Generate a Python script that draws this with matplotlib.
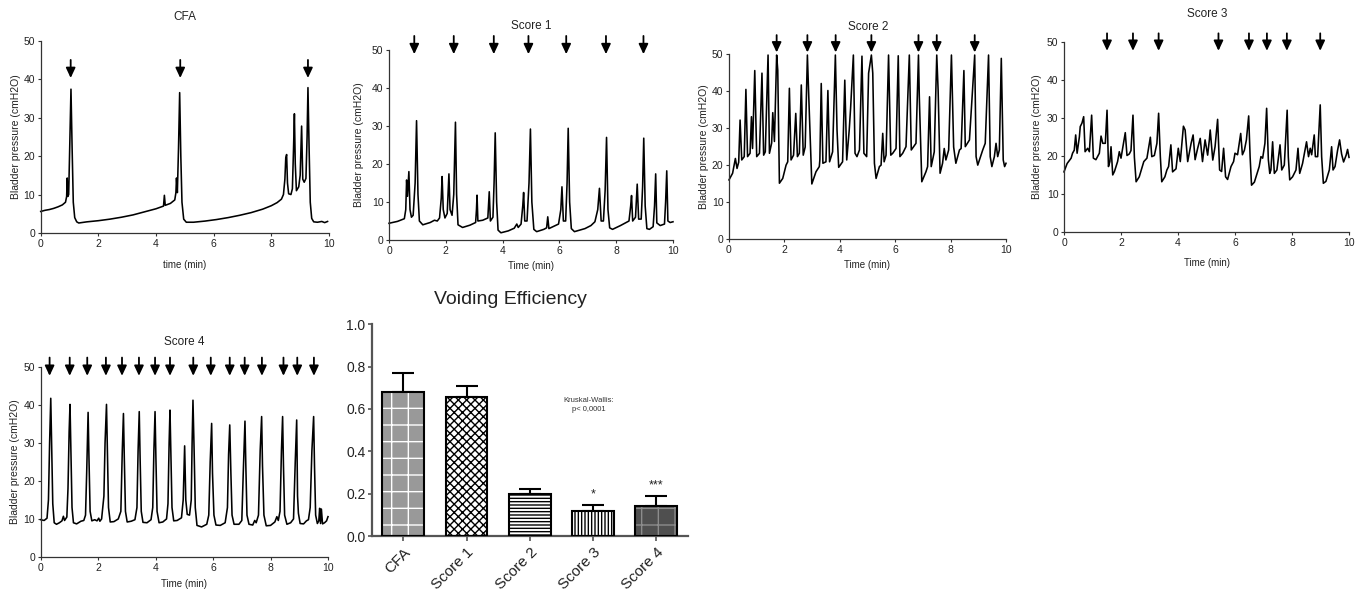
import numpy as np
import matplotlib
matplotlib.use("Agg")
import matplotlib.pyplot as plt

plt.rcParams['font.family'] = ['Liberation Sans', 'DejaVu Sans']
plt.rcParams['hatch.linewidth'] = 1.0

# ---------------- data: cystometry traces (time min, pressure cmH2O) ----------------
cfa_trace = [
    (0.00, 5.6), (0.15, 5.9), (0.30, 6.1), (0.45, 6.4), (0.60, 6.8), (0.75, 7.3), (0.86, 8.0),
    (0.90, 9.5), (0.92, 14.3), (0.94, 9.5), (0.97, 10.0), (1.00, 20.0), (1.05, 37.4), (1.09, 22.0),
    (1.13, 8.0), (1.18, 4.0), (1.25, 2.9), (1.32, 2.6), (1.60, 2.9), (2.00, 3.2), (2.40, 3.6),
    (2.80, 4.1), (3.20, 4.7), (3.60, 5.5), (4.00, 6.3), (4.26, 7.0), (4.29, 9.8), (4.32, 7.2),
    (4.50, 7.7), (4.65, 8.6), (4.69, 10.5), (4.71, 14.3), (4.74, 10.5), (4.78, 22.0), (4.82, 36.5),
    (4.86, 20.0), (4.90, 8.0), (4.96, 3.6), (5.05, 2.8), (5.30, 2.8), (5.70, 3.1), (6.10, 3.5),
    (6.50, 4.0), (6.90, 4.6), (7.30, 5.3), (7.70, 6.2), (8.00, 7.1), (8.20, 7.9), (8.35, 8.8),
    (8.42, 10.0), (8.47, 14.0), (8.50, 19.5), (8.53, 20.4), (8.56, 13.0), (8.60, 10.2), (8.68, 10.0),
    (8.73, 11.5), (8.77, 22.0), (8.80, 31.0), (8.83, 18.0), (8.87, 11.0), (8.95, 12.0), (9.00, 15.0),
    (9.05, 27.8), (9.09, 14.0), (9.14, 13.2), (9.20, 14.2), (9.24, 25.0), (9.27, 37.8), (9.31, 22.0),
    (9.35, 8.0), (9.40, 3.8), (9.47, 2.9), (9.60, 2.8), (9.75, 3.0), (9.85, 2.7), (9.95, 3.0),
]
cfa_arrows = [1.04, 4.84, 9.27]

score1_trace = [
    (0.00, 4.4), (0.30, 4.9), (0.54, 5.6), (0.59, 8.0), (0.62, 15.8), (0.65, 11.5), (0.70, 18.0),
    (0.74, 8.0), (0.79, 6.0), (0.85, 6.5), (0.92, 15.0), (0.97, 31.4), (1.02, 12.0), (1.07, 5.0),
    (1.19, 4.0), (1.45, 4.6), (1.60, 5.2), (1.70, 5.0), (1.78, 5.8), (1.84, 11.0), (1.87, 16.7),
    (1.91, 8.0), (1.97, 5.8), (2.05, 7.0), (2.11, 17.4), (2.15, 8.0), (2.22, 6.5), (2.28, 12.0),
    (2.34, 31.0), (2.38, 12.0), (2.43, 4.0), (2.59, 3.3), (2.85, 3.9), (3.05, 4.6), (3.08, 8.0),
    (3.10, 11.8), (3.13, 5.0), (3.30, 5.2), (3.48, 5.8), (3.53, 12.7), (3.57, 5.0), (3.66, 6.0),
    (3.70, 15.0), (3.74, 28.2), (3.79, 10.0), (3.84, 2.6), (3.94, 1.9), (4.20, 2.4), (4.41, 3.1),
    (4.50, 4.2), (4.55, 3.3), (4.65, 4.2), (4.71, 9.0), (4.74, 12.5), (4.78, 5.0), (4.86, 5.0),
    (4.93, 15.0), (4.98, 29.2), (5.03, 10.0), (5.10, 2.8), (5.20, 2.2), (5.45, 2.8), (5.55, 3.2),
    (5.59, 6.1), (5.63, 3.0), (5.97, 4.2), (6.05, 8.0), (6.09, 14.0), (6.14, 5.0), (6.22, 5.0),
    (6.27, 15.0), (6.31, 29.4), (6.36, 10.0), (6.42, 3.0), (6.53, 2.2), (6.90, 3.0), (7.11, 3.8),
    (7.25, 4.8), (7.35, 8.0), (7.41, 13.6), (7.47, 5.0), (7.55, 5.0), (7.61, 13.0), (7.66, 27.0),
    (7.71, 8.0), (7.77, 3.2), (7.87, 2.8), (8.15, 3.8), (8.35, 4.6), (8.45, 5.0), (8.51, 9.0),
    (8.54, 11.7), (8.58, 5.0), (8.68, 6.0), (8.74, 14.7), (8.79, 5.5), (8.88, 5.5), (8.93, 14.0),
    (8.97, 26.8), (9.02, 9.0), (9.08, 3.0), (9.17, 2.8), (9.30, 3.5), (9.35, 9.0), (9.39, 17.4),
    (9.43, 4.5), (9.55, 3.8), (9.70, 4.2), (9.74, 10.0), (9.78, 18.2), (9.82, 5.0), (9.90, 4.6),
    (10.00, 4.8),
]
score1_arrows = [0.89, 2.28, 3.69, 4.91, 6.24, 7.64, 8.96]

score2_trace = [
    (0.00, 16.0), (0.13, 17.8), (0.23, 21.8), (0.29, 19.1), (0.35, 20.8), (0.40, 32.2), (0.46, 21.4),
    (0.55, 22.3), (0.61, 40.5), (0.67, 22.3), (0.76, 23.2), (0.81, 33.1), (0.85, 24.5), (0.93, 45.6),
    (1.00, 22.3), (1.10, 23.2), (1.19, 44.9), (1.25, 22.7), (1.31, 23.6), (1.41, 49.8), (1.46, 23.2),
    (1.54, 26.0), (1.58, 34.2), (1.64, 26.4), (1.72, 49.8), (1.76, 45.7), (1.82, 15.1), (1.94, 16.4),
    (2.06, 20.0), (2.12, 20.9), (2.18, 40.8), (2.24, 21.4), (2.33, 22.7), (2.41, 34.0), (2.47, 22.3),
    (2.54, 23.2), (2.61, 41.7), (2.68, 22.7), (2.75, 24.9), (2.83, 49.8), (2.88, 38.5), (2.99, 14.9),
    (3.14, 18.2), (3.26, 19.6), (3.28, 21.4), (3.33, 42.1), (3.39, 20.5), (3.50, 20.9), (3.57, 40.2),
    (3.63, 20.9), (3.74, 23.6), (3.84, 49.8), (3.90, 29.5), (3.96, 19.4), (4.10, 20.9), (4.18, 43.0),
    (4.25, 21.4), (4.34, 29.5), (4.39, 35.4), (4.49, 49.8), (4.55, 23.2), (4.62, 22.3), (4.71, 24.1),
    (4.80, 49.5), (4.87, 23.2), (4.97, 22.3), (5.04, 44.9), (5.14, 49.8), (5.19, 44.9), (5.25, 20.5),
    (5.31, 16.4), (5.43, 19.6), (5.49, 20.0), (5.55, 28.6), (5.60, 20.9), (5.67, 22.7), (5.76, 49.8),
    (5.84, 22.7), (5.91, 23.2), (6.03, 24.5), (6.11, 49.6), (6.17, 22.3), (6.27, 23.2), (6.39, 25.0),
    (6.51, 49.8), (6.58, 24.1), (6.75, 25.9), (6.84, 49.8), (6.87, 38.5), (6.96, 15.5), (7.11, 18.2),
    (7.17, 19.6), (7.24, 38.5), (7.30, 19.6), (7.41, 23.6), (7.50, 49.8), (7.55, 40.2), (7.62, 17.8),
    (7.71, 20.5), (7.77, 24.5), (7.83, 21.4), (7.93, 24.1), (8.03, 49.8), (8.11, 24.9), (8.19, 20.5),
    (8.32, 24.1), (8.38, 24.5), (8.48, 45.6), (8.53, 25.0), (8.68, 26.8), (8.87, 49.8), (8.92, 22.3),
    (8.98, 20.0), (9.16, 24.1), (9.25, 25.9), (9.37, 49.8), (9.43, 22.3), (9.49, 19.6), (9.58, 22.3),
    (9.64, 25.9), (9.70, 22.3), (9.76, 24.1), (9.83, 48.9), (9.90, 21.4), (9.95, 19.6), (10.00, 20.5),
]
score2_arrows = [1.72, 2.83, 3.85, 5.14, 6.84, 7.50, 8.87]

score3_trace = [
    (0.00, 15.8), (0.11, 18.0), (0.25, 19.4), (0.30, 20.7), (0.36, 21.5), (0.41, 25.5), (0.46, 20.7),
    (0.54, 25.0), (0.57, 27.7), (0.63, 28.6), (0.69, 30.3), (0.74, 21.1), (0.83, 22.0), (0.89, 21.1),
    (0.97, 30.7), (1.03, 19.4), (1.12, 19.0), (1.24, 20.7), (1.30, 25.2), (1.36, 23.3), (1.45, 23.3),
    (1.51, 32.0), (1.56, 17.2), (1.61, 18.5), (1.65, 22.4), (1.71, 15.0), (1.77, 15.9), (1.88, 18.5),
    (1.94, 21.1), (2.00, 19.4), (2.15, 26.1), (2.21, 20.1), (2.29, 20.5), (2.35, 21.4), (2.42, 30.7),
    (2.47, 19.6), (2.53, 13.2), (2.64, 14.5), (2.80, 18.5), (2.91, 19.4), (3.03, 24.9), (3.08, 19.8),
    (3.17, 20.1), (3.26, 23.3), (3.32, 31.2), (3.38, 19.8), (3.43, 13.2), (3.54, 14.5), (3.61, 16.3),
    (3.67, 17.2), (3.75, 22.9), (3.81, 15.8), (3.93, 16.6), (4.01, 22.0), (4.08, 18.5), (4.19, 27.8),
    (4.25, 26.8), (4.34, 18.5), (4.46, 23.3), (4.53, 25.5), (4.60, 19.0), (4.69, 22.0), (4.78, 24.6),
    (4.86, 18.5), (4.95, 24.2), (5.04, 20.2), (5.10, 24.2), (5.13, 26.8), (5.22, 18.9), (5.30, 22.4),
    (5.39, 29.6), (5.46, 16.3), (5.53, 15.9), (5.60, 22.0), (5.67, 14.5), (5.74, 13.8), (5.86, 17.2),
    (5.95, 18.5), (6.00, 20.7), (6.09, 20.3), (6.20, 25.9), (6.26, 20.3), (6.33, 21.5), (6.40, 24.2),
    (6.48, 30.5), (6.53, 19.8), (6.58, 12.3), (6.68, 13.1), (6.85, 17.2), (6.91, 19.8), (6.97, 19.4),
    (7.05, 23.3), (7.11, 32.5), (7.17, 19.0), (7.22, 15.4), (7.26, 16.3), (7.32, 23.7), (7.38, 15.4),
    (7.47, 16.3), (7.58, 22.9), (7.64, 16.3), (7.73, 17.6), (7.83, 32.0), (7.87, 19.8), (7.92, 13.7),
    (8.02, 14.5), (8.14, 16.3), (8.21, 22.0), (8.27, 15.4), (8.37, 18.0), (8.51, 23.7), (8.58, 19.8),
    (8.64, 22.0), (8.69, 20.3), (8.78, 25.5), (8.82, 19.8), (8.90, 19.8), (8.99, 33.4), (9.04, 19.8),
    (9.10, 12.8), (9.19, 13.3), (9.31, 16.3), (9.39, 22.4), (9.44, 16.3), (9.51, 17.2), (9.60, 21.5),
    (9.67, 24.2), (9.74, 20.5), (9.81, 18.4), (9.90, 20.2), (9.95, 21.7), (10.00, 19.6),
]
score3_arrows = [1.51, 2.42, 3.32, 5.42, 6.49, 7.12, 7.82, 8.99]

score4_trace = [
    (0.00, 9.8), (0.12, 9.6), (0.22, 10.2), (0.27, 15.0), (0.31, 30.0), (0.35, 41.7), (0.38, 30.0),
    (0.42, 14.0), (0.47, 9.0), (0.55, 8.6), (0.65, 9.0), (0.74, 9.5), (0.79, 10.7), (0.83, 9.6),
    (0.91, 10.5), (0.95, 18.0), (0.99, 33.0), (1.02, 40.1), (1.05, 28.0), (1.09, 13.0), (1.14, 9.0),
    (1.25, 8.7), (1.40, 9.4), (1.50, 9.6), (1.56, 11.0), (1.60, 22.0), (1.65, 38.0), (1.68, 26.0),
    (1.72, 12.0), (1.78, 9.5), (1.88, 9.8), (1.96, 9.5), (2.02, 10.2), (2.06, 9.4), (2.12, 10.0),
    (2.20, 16.0), (2.24, 30.0), (2.29, 40.1), (2.32, 28.0), (2.36, 13.0), (2.42, 9.2), (2.55, 9.3),
    (2.70, 10.0), (2.79, 12.0), (2.84, 28.0), (2.88, 37.7), (2.91, 26.0), (2.95, 12.0), (3.01, 9.2),
    (3.15, 9.4), (3.28, 9.8), (3.35, 13.0), (3.39, 28.0), (3.43, 38.2), (3.46, 26.0), (3.50, 12.0),
    (3.56, 9.1), (3.70, 9.0), (3.84, 9.8), (3.90, 13.0), (3.94, 28.0), (3.98, 38.2), (4.01, 26.0),
    (4.05, 12.0), (4.12, 9.0), (4.25, 9.2), (4.38, 10.0), (4.43, 14.0), (4.47, 30.0), (4.50, 38.6),
    (4.53, 27.0), (4.57, 13.0), (4.63, 9.5), (4.75, 9.6), (4.90, 10.3), (4.96, 15.0), (5.01, 29.2),
    (5.05, 15.0), (5.10, 11.2), (5.18, 11.0), (5.24, 15.0), (5.27, 30.0), (5.30, 41.2), (5.34, 28.0),
    (5.38, 13.0), (5.44, 8.3), (5.60, 7.9), (5.78, 8.6), (5.85, 11.0), (5.90, 25.0), (5.95, 35.1),
    (5.98, 22.0), (6.03, 11.0), (6.10, 8.4), (6.25, 8.3), (6.42, 9.0), (6.50, 13.0), (6.54, 27.0),
    (6.58, 34.7), (6.62, 22.0), (6.66, 11.0), (6.73, 8.6), (6.90, 8.6), (7.00, 9.6), (7.05, 22.0),
    (7.11, 35.7), (7.14, 24.0), (7.18, 11.0), (7.25, 8.6), (7.38, 8.4), (7.45, 9.6), (7.50, 9.0),
    (7.58, 11.0), (7.64, 28.0), (7.69, 36.9), (7.72, 24.0), (7.77, 11.0), (7.85, 8.2), (8.00, 8.3),
    (8.15, 9.2), (8.22, 10.6), (8.27, 9.6), (8.33, 12.0), (8.38, 28.0), (8.42, 36.9), (8.45, 24.0),
    (8.49, 11.0), (8.57, 8.6), (8.70, 9.0), (8.80, 10.0), (8.86, 25.0), (8.91, 36.0), (8.94, 16.0),
    (8.97, 11.5), (9.03, 8.8), (9.15, 8.7), (9.25, 9.5), (9.32, 9.8), (9.38, 13.0), (9.44, 28.0),
    (9.50, 36.9), (9.53, 24.0), (9.57, 11.0), (9.63, 8.8), (9.68, 9.5), (9.71, 12.8), (9.74, 8.8),
    (9.77, 12.6), (9.81, 8.7), (9.88, 9.0), (9.95, 9.5), (10.00, 10.6),
]
score4_arrows = [0.31, 1.01, 1.62, 2.27, 2.83, 3.42, 3.98, 4.50, 5.31, 5.92, 6.58, 7.10, 7.70,
                 8.45, 8.93, 9.51]

x_ticks = [0, 2, 4, 6, 8, 10]
y_ticks = [0, 10, 20, 30, 40, 50]

# ---------------- data: voiding efficiency bars ----------------
groups = ["CFA", "Score 1", "Score 2", "Score 3", "Score 4"]
efficiency = [0.68, 0.655, 0.20, 0.12, 0.14]
efficiency_err = [0.09, 0.055, 0.022, 0.025, 0.05]
significance = ["", "", "", "*", "***"]
bar_yticks = [0.0, 0.2, 0.4, 0.6, 0.8, 1.0]

# ---------------- layout ----------------
W, H = 1367, 591
fig = plt.figure(figsize=(W / 100, H / 100), dpi=100)


def px_axes(x0, x1, ytop, ybot):
    return fig.add_axes([x0 / W, 1 - ybot / H, (x1 - x0) / W, (ybot - ytop) / H])


panels = [
    # title, xlabel, trace, arrows, (x0,x1,ytop,ybot), title pos, ylab coord, xlab coord, arrow top/tip
    ("CFA", "time (min)", cfa_trace, cfa_arrows, (40.7, 329, 40.7, 233), (185, 17), -0.067, -0.138, (45.0, 40.3)),
    ("Score 1", "Time (min)", score1_trace, score1_arrows, (389, 673, 50, 240), (531, 26), -0.087, -0.113, (53.7, 48.9)),
    ("Score 2", "Time (min)", score2_trace, score2_arrows, (729, 1006, 54.3, 239), (868, 27), -0.072, -0.111, (55.2, 50.5)),
    ("Score 3", "Time (min)", score3_trace, score3_arrows, (1064, 1349, 41.7, 232), (1207, 14), -0.076, -0.139, (52.2, 47.6)),
    ("Score 4", "Time (min)", score4_trace, score4_arrows, (40.7, 328, 366.7, 557), (184, 342), -0.071, -0.118, (52.4, 47.6)),
]

axis_col = "#333333"
text_col = "#222222"

for title, xlab, trace, arrows, box, tpos, ylc, xlc, (atop, atip) in panels:
    ax = px_axes(*box)
    t = np.array([p[0] for p in trace])
    pr = np.array([p[1] for p in trace])
    ax.plot(t, pr, color="black", lw=1.15, clip_on=False, solid_joinstyle="round")
    ax.set_xlim(0, 10)
    ax.set_ylim(0, 50)
    ax.set_xticks(x_ticks)
    ax.set_yticks(y_ticks)
    for s in ("top", "right"):
        ax.spines[s].set_visible(False)
    for s in ("left", "bottom"):
        ax.spines[s].set_color(axis_col)
        ax.spines[s].set_linewidth(0.9)
    ax.tick_params(direction="out", length=2.5, width=0.8, pad=1.5, labelsize=7.5,
                   colors=axis_col, labelcolor=text_col)
    ax.set_ylabel("Bladder pressure (cmH2O)", fontsize=7.5, color=text_col)
    ax.yaxis.set_label_coords(ylc, 0.5)
    ax.set_xlabel(xlab, fontsize=7, color=text_col)
    ax.xaxis.set_label_coords(0.5, xlc)
    for a in arrows:
        ax.annotate("", xy=(a, atip), xytext=(a, atop), annotation_clip=False,
                    arrowprops=dict(arrowstyle="-|>,head_length=0.6,head_width=0.28",
                                    color="black", lw=1.3, shrinkA=0, shrinkB=0,
                                    mutation_scale=10))
    fig.text(tpos[0] / W, 1 - tpos[1] / H, title, ha="center", va="center",
             fontsize=8.5, color=text_col)

# ---------------- bar chart ----------------
bx = px_axes(371.7, 688, 324.3, 536)
pos = np.arange(len(groups))
faces = ["#999999", "#ffffff", "#ffffff", "#ffffff", "#4f4f4f"]
hatches = ["+", "xxxx", "-----", "|||||", "+"]
hatch_cols = ["#ffffff", "#000000", "#000000", "#000000", "#8c8c8c"]
bw = 0.66
for i in range(len(groups)):
    bx.bar(pos[i], efficiency[i], width=bw, color=faces[i], hatch=hatches[i],
           edgecolor=hatch_cols[i], linewidth=0, zorder=2)
bx.bar(pos, efficiency, width=bw, facecolor="none", edgecolor="black", linewidth=1.5, zorder=3)
bx.errorbar(pos, efficiency, yerr=[np.zeros(len(efficiency)), efficiency_err], fmt="none",
            ecolor="black", elinewidth=1.5, capsize=8, capthick=1.5, zorder=1)
for i, s in enumerate(significance):
    if s:
        bx.text(pos[i], efficiency[i] + efficiency_err[i] + (0.038 if len(s) == 1 else 0.035), s,
                ha="center", va="baseline", fontsize=9, color=text_col)
bx.text(2.93, 0.619, "Kruskal-Wallis:\np< 0,0001", ha="center", va="center",
        fontsize=5.5, color="#333333", linespacing=1.35)
bx.set_xlim(-0.5, 4.5)
bx.set_ylim(0, 1.0)
bx.set_yticks(bar_yticks)
bx.set_yticklabels([f"{v:.1f}" for v in bar_yticks])
bx.set_xticks(pos)
bx.set_xticklabels(groups, rotation=45, ha="right", rotation_mode="anchor")
for s in ("top", "right"):
    bx.spines[s].set_visible(False)
for s in ("left", "bottom"):
    bx.spines[s].set_color("#555555")
    bx.spines[s].set_linewidth(1.6)
bx.tick_params(axis="y", direction="out", length=3, width=1.2, pad=1.5, labelsize=10,
               colors="#555555", labelcolor=text_col)
bx.tick_params(axis="x", direction="out", length=3.5, width=1.2, pad=3, labelsize=11,
               colors="#555555", labelcolor=text_col)
fig.text(510 / W, 1 - 300 / H, "Voiding Efficiency", ha="center", va="center",
         fontsize=14, color=text_col)

fig.savefig("out.png", dpi=100)
